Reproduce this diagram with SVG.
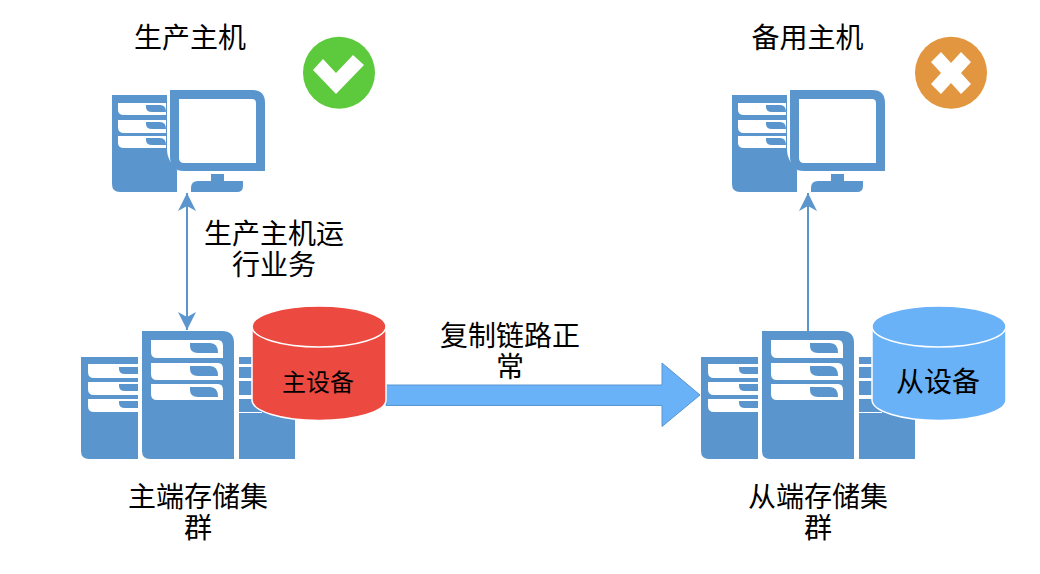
<svg xmlns="http://www.w3.org/2000/svg" xmlns:xlink="http://www.w3.org/1999/xlink" width="1040" height="574" viewBox="0 0 1040 574">
<style>
text{font-family:"Noto Sans CJK SC","Noto Sans",sans-serif;font-size:28px;fill:#000;text-anchor:middle}
.b{fill:#5b95cd}
.w{fill:#fff}
.line{fill:none;stroke:#5b95cd;stroke-width:2}
.head{fill:#5b95cd}
</style>
<defs>
<marker id="ah" viewBox="0 0 18 18" refX="18" refY="9" markerWidth="18" markerHeight="18" markerUnits="userSpaceOnUse" orient="auto-start-reverse"><path class="head" d="M0 0L18 9L0 18L5 9Z"/></marker>
<g id="pc">
<path class="b" d="M112 95H167V150Q167 160 177 170V192H120Q112 192 112 184Z"/>
<path class="w" d="M118 103H166V115H124Q118 115 118 110ZM118 120H166V133H124Q118 133 118 127ZM118 136H166V148H124Q118 148 118 143Z"/>
<path class="b" d="M146 105H160Q166 105 166 112H152Q146 112 146 107ZM146 122H160Q166 122 166 129H152Q146 129 146 124ZM146 138H160Q166 138 166 145H152Q146 145 146 140Z"/>
<path class="b" fill-rule="evenodd" d="M170 90H252Q265 90 265 103V171H184Q170 171 170 157ZM179 99V158Q179 163 184 163H256V103Q256 99 252 99Z"/>
<path class="b" d="M211 174H224V181H243V186Q243 192 237 192H191V188Q191 181 198 181H211Z"/>
</g>
<g id="server">
<path class="b" d="M81 357H138V459H89Q81 459 81 451Z"/>
<path class="w" d="M88 364H138V378H94Q88 378 88 372ZM88 382H138V395H94Q88 395 88 389ZM88 399H138V412H94Q88 412 88 406Z"/>
<path class="b" d="M119 367H138V374H125Q119 374 119 369ZM119 384H138V391H125Q119 391 119 386ZM119 401H138V408H125Q119 408 119 403Z"/>
<path class="b" d="M239 357H295V459H239Z"/>
<path class="w" d="M239 364H262V367H239ZM239 378H262V381H239ZM239 395H262V399H239ZM239 412H262V413H239Z"/>
<path class="w" d="M138 357H142V459H146Q138 455 138 447Z"/>
<path class="b" d="M142 331H222Q234 331 234 343V459H150Q142 459 142 451Z"/>
<path class="w" d="M151 340H218Q223 340 223 346V358H157Q151 358 151 352ZM151 363H218Q223 363 223 369V380H157Q151 380 151 374ZM151 384H218Q223 384 223 390V400H157Q151 400 151 394Z"/>
<path class="b" d="M190 343H210Q218 343 218 353H198Q190 353 190 346ZM190 366H210Q218 366 218 376H198Q190 376 190 369ZM190 387H210Q218 387 218 397H198Q190 397 190 390Z"/>
</g>
</defs>
<g id="connectors">
<line class="line" x1="187" y1="193" x2="187" y2="330" marker-start="url(#ah)" marker-end="url(#ah)"/>
<line class="line" x1="808" y1="331" x2="808" y2="193" marker-end="url(#ah)"/>
<path d="M386 385H662V363L700 395L662 426.500V405.500H386Z" fill="#6ab2f8" stroke="#5b95cd" stroke-width="1"/>
</g>
<g id="prod-host"><use xlink:href="#pc" href="#pc"/><text x="190" y="48">生产主机</text></g>
<g id="standby-host"><use xlink:href="#pc" href="#pc" x="620"/><text x="807.500" y="48">备用主机</text></g>
<g id="ok-badge"><circle cx="339" cy="72.700" r="36" fill="#5dc93c"/><path class="w" d="M313 70L323 59L336 73L353 55L364 65L336 94Z"/></g>
<g id="fail-badge"><circle cx="951" cy="72.700" r="36" fill="#e2963f"/><path class="w" d="M931 62L941 52L951 63L961 52L971 62L961 73L971 84L961 94L951 83L941 94L931 84L941 73Z"/></g>
<g id="primary-storage"><use xlink:href="#server" href="#server"/><text x="198" y="507">主端存储集<tspan x="198" dy="31">群</tspan></text></g>
<g id="secondary-storage"><use xlink:href="#server" href="#server" x="620"/><text x="818" y="507">从端存储集<tspan x="818" dy="31">群</tspan></text></g>
<g id="primary-device">
<path d="M252 326.500V400A67 20.500 0 0 0 386 400V326.500Z" fill="#ec4a40" stroke="#fff" stroke-width="1.500"/>
<ellipse cx="319" cy="326.500" rx="67" ry="20.500" fill="#ec4a40" stroke="#fff" stroke-width="1.500"/>
<text x="318" y="391" style="font-size:24px">主设备</text>
</g>
<g id="secondary-device">
<path d="M872 326.500V400A67 20.500 0 0 0 1006 400V326.500Z" fill="#6ab2f8" stroke="#fff" stroke-width="1.500"/>
<ellipse cx="939" cy="326.500" rx="67" ry="20.500" fill="#6ab2f8" stroke="#fff" stroke-width="1.500"/>
<text x="938" y="392">从设备</text>
</g>
<g id="labels">
<text x="274" y="244">生产主机运<tspan x="274" dy="31">行业务</tspan></text>
<text x="510" y="346">复制链路正<tspan x="510" dy="31">常</tspan></text>
</g>
</svg>
